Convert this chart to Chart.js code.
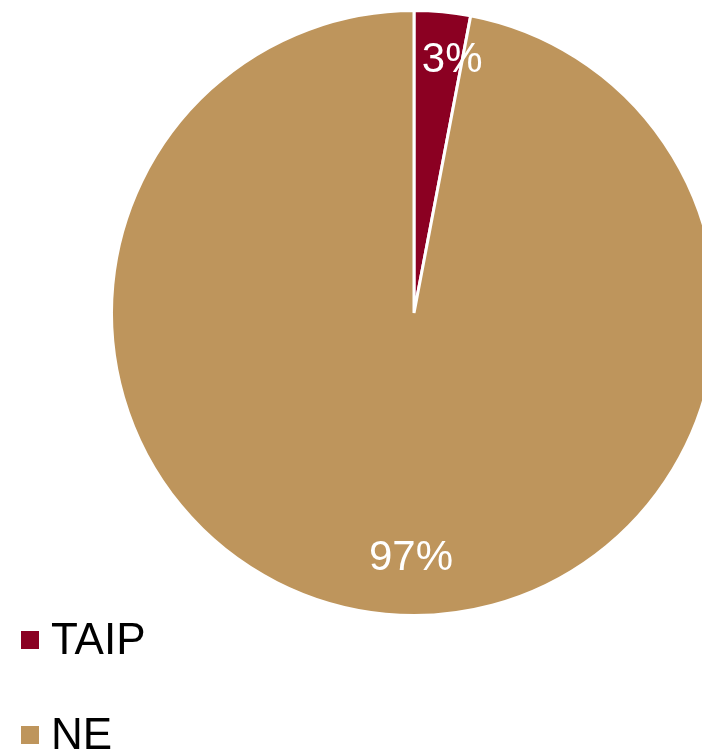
<!DOCTYPE html>
<html>
<head>
<meta charset="utf-8">
<script src="https://cdn.jsdelivr.net/npm/chart.js@4/dist/chart.umd.min.js"></script>
<style>
  html, body { margin:0; padding:0; background:#fff; width:702px; height:753px; overflow:hidden; position:relative; }
  #wrap { position:absolute; left:0; top:0; width:828px; height:626px; }
  #legend { position:absolute; left:21px; top:614px; font-family:"Liberation Sans", Arial, sans-serif; font-size:44px; color:#000; }
  .item { position:absolute; left:0; white-space:nowrap; height:50px; line-height:50px; }
  .sw { display:inline-block; width:18px; height:18px; vertical-align:middle; margin-right:12px; position:relative; top:-2px; }
</style>
</head>
<body>
<div id="wrap"><canvas id="c"></canvas></div>
<div id="legend"></div>
<script>
const categories = ["TAIP", "NE"];
const values = [3, 97];
const colors = ["#8B0022", "#BE955C"];
// label placement tweaks (degrees of rotation from slice middle, fraction of radius)
const labelAngleShift = [3.2, -4.7];
const labelRadiusFrac = [0.845, 0.81];

const labelPlugin = {
  id: 'pieLabels',
  afterDatasetsDraw(chart) {
    const ctx = chart.ctx;
    const meta = chart.getDatasetMeta(0);
    const total = values.reduce((a, b) => a + b, 0);
    ctx.save();
    ctx.fillStyle = '#fff';
    ctx.font = '42px "Liberation Sans", Arial, sans-serif';
    ctx.textAlign = 'center';
    ctx.textBaseline = 'middle';
    meta.data.forEach((arc, i) => {
      const p = arc.getProps(['x','y','startAngle','endAngle','outerRadius'], true);
      const mid = (p.startAngle + p.endAngle) / 2 + labelAngleShift[i] * Math.PI / 180;
      const r = p.outerRadius * labelRadiusFrac[i];
      const x = p.x + Math.cos(mid) * r;
      const y = p.y + Math.sin(mid) * r;
      ctx.fillText(Math.round(values[i] / total * 100) + '%', x, y);
    });
    ctx.restore();
  }
};

new Chart(document.getElementById('c'), {
  type: 'pie',
  data: {
    labels: categories,
    datasets: [{
      data: values,
      backgroundColor: colors,
      borderColor: '#ffffff',
      borderWidth: 3
    }]
  },
  options: {
    responsive: true,
    maintainAspectRatio: false,
    animation: false,
    layout: { padding: { top: 9, bottom: 9, left: 0, right: 0 } },
    plugins: { legend: { display: false }, tooltip: { enabled: false } }
  },
  plugins: [labelPlugin]
});

const legend = document.getElementById('legend');
categories.forEach((c, i) => {
  const d = document.createElement('div');
  d.className = 'item';
  d.style.top = (i * 95) + 'px';
  d.innerHTML = '<span class="sw" style="background:' + colors[i] + '"></span>' + c;
  legend.appendChild(d);
});
</script>
</body>
</html>
